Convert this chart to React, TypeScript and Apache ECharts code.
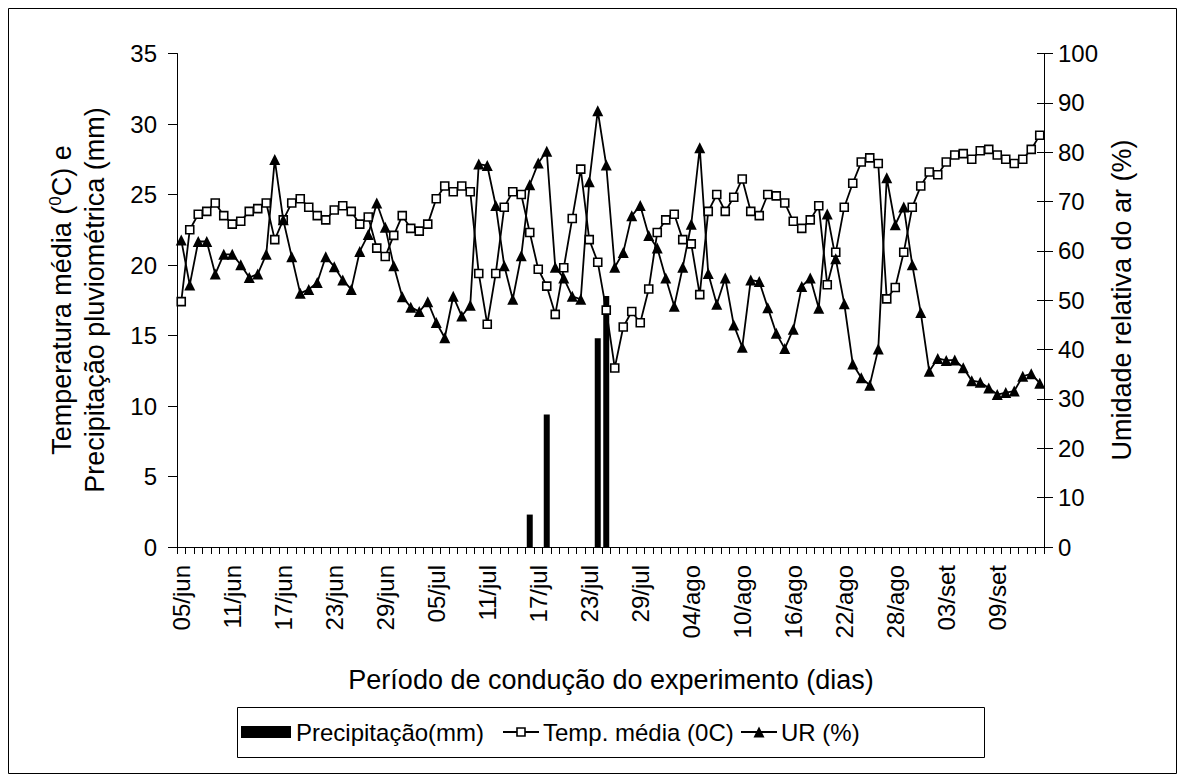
import React, { useEffect, useRef } from "react";
import * as echarts from "echarts";

const FONT = "'Liberation Sans', Arial, sans-serif";

// Calendar spans of the experiment (month label, first day, last day)
const monthSpans: [string, number, number][] = [
  ["jun", 5, 30],
  ["jul", 1, 31],
  ["ago", 1, 31],
  ["set", 1, 14],
];
const categories: string[] = [];
monthSpans.forEach(([m, a, b]) => {
  for (let d = a; d <= b; d++) categories.push(String(d).padStart(2, "0") + "/" + m);
});

// Temperatura média (°C), one value per day
const tempValues = [
  17.4, 22.5, 23.6, 23.8, 24.4, 23.5, 22.9, 23.1, 23.8, 24.0,
  24.4, 21.8, 23.2, 24.4, 24.7, 24.1, 23.5, 23.2, 23.9, 24.2,
  23.8, 22.9, 23.4, 21.2, 20.6, 22.1, 23.5, 22.6, 22.4, 22.9,
  24.7, 25.6, 25.2, 25.6, 25.2, 19.4, 15.8, 19.4, 24.1, 25.2,
  25.0, 22.3, 19.7, 18.5, 16.5, 19.8, 23.3, 26.8, 21.8, 20.2,
  16.8, 12.7, 15.6, 16.7, 15.9, 18.3, 22.3, 23.2, 23.6, 21.8,
  21.5, 17.9, 23.8, 25.0, 23.8, 24.8, 26.1, 23.8, 23.5, 25.0,
  24.9, 24.4, 23.1, 22.6, 23.2, 24.2, 18.6, 20.9, 24.1, 25.8,
  27.3, 27.6, 27.2, 17.6, 18.4, 20.9, 24.1, 25.6, 26.6, 26.4,
  27.3, 27.8, 27.9, 27.5, 28.1, 28.2, 27.8, 27.5, 27.2, 27.5,
  28.2, 29.2,
];

// Umidade relativa do ar (%), one value per day
const urValues = [
  62.2, 53.1, 61.9, 61.9, 55.3, 59.3, 59.3, 57.2, 54.6, 55.3,
  59.3, 78.5, 66.3, 58.8, 51.4, 52.2, 53.6, 58.8, 56.8, 54.1,
  52.2, 59.9, 63.3, 69.7, 64.8, 57.0, 50.7, 48.6, 47.7, 49.7,
  45.5, 42.4, 50.8, 46.8, 49.0, 77.6, 77.3, 69.2, 57.0, 50.2,
  59.0, 73.4, 77.8, 80.2, 56.7, 54.5, 50.8, 50.2, 74.0, 88.4,
  77.4, 56.7, 59.7, 67.1, 69.2, 63.1, 60.6, 54.5, 48.8, 56.7,
  65.4, 80.9, 55.4, 49.2, 54.5, 45.0, 40.5, 54.1, 53.8, 48.5,
  43.3, 40.2, 44.1, 52.8, 54.5, 48.4, 67.5, 58.4, 49.3, 37.1,
  34.3, 32.8, 40.1, 74.8, 65.3, 68.9, 57.2, 47.5, 35.6, 38.2,
  37.8, 37.9, 36.3, 33.7, 33.4, 32.2, 30.9, 31.3, 31.6, 34.6,
  35.1, 33.2,
];

// Precipitação (mm): only the rainy days
const precipDates = ["16/jul", "18/jul", "24/jul", "25/jul"];
const precipValues = [2.3, 9.4, 14.8, 17.8];

const seriesNames = ["Precipitação(mm)", "Temp. média (0C)", "UR (%)"];
const xTitle = "Período de condução do experimento (dias)";
const rightTitle = "Umidade relativa do ar (%)";

const FS = 24;
const TFS = 27;

export default function App() {
  const ref = useRef<HTMLDivElement>(null);
  useEffect(() => {
    if (!ref.current) return;
    const chart = echarts.init(ref.current, undefined, { renderer: "svg" });
    const precipData = categories.map((c) => {
      const k = precipDates.indexOf(c);
      return k >= 0 ? precipValues[k] : null;
    });
    const black = "#000";
    const txt = { fontFamily: FONT, fontSize: FS, fill: black };
    const ttl = { fontFamily: FONT, fontSize: TFS, fill: black };
    const option: any = {
      animation: false,
      backgroundColor: "#fff",
      textStyle: { fontFamily: FONT },
      grid: { left: 177, top: 53.5, width: 867, height: 493.5, containLabel: false },
      xAxis: {
        type: "category",
        data: categories,
        boundaryGap: true,
        axisLine: { show: true, lineStyle: { color: black, width: 1 } },
        axisTick: { show: true, interval: 0, length: 7, lineStyle: { color: black } },
        axisLabel: { interval: 5, rotate: 90, margin: 18, fontSize: FS, color: black, fontFamily: FONT },
        splitLine: { show: false },
      },
      yAxis: [
        {
          type: "value", min: 0, max: 35, interval: 5, position: "left",
          axisLine: { show: true, lineStyle: { color: black } },
          axisTick: { show: true, length: 9, lineStyle: { color: black } },
          axisLabel: { margin: 20, fontSize: FS, color: black, fontFamily: FONT },
          splitLine: { show: false },
        },
        {
          type: "value", min: 0, max: 100, interval: 10, position: "right",
          axisLine: { show: true, lineStyle: { color: black } },
          axisTick: { show: true, length: 9, lineStyle: { color: black } },
          axisLabel: { margin: 14, fontSize: FS, color: black, fontFamily: FONT },
          splitLine: { show: false },
        },
        {
          type: "value", min: 0, max: 100, interval: 10, position: "right",
          axisLine: { show: false },
          axisTick: { show: true, inside: true, length: 7, lineStyle: { color: black } },
          axisLabel: { show: false },
          splitLine: { show: false },
        },
      ],
      series: [
        {
          name: seriesNames[0], type: "bar", yAxisIndex: 0, data: precipData,
          barWidth: 6, itemStyle: { color: black },
        },
        {
          name: seriesNames[1], type: "line", yAxisIndex: 0, data: tempValues,
          symbol: "rect", symbolSize: 8, showAllSymbol: true,
          lineStyle: { color: black, width: 1.8 },
          itemStyle: { color: "#fff", borderColor: black, borderWidth: 1.6 },
        },
        {
          name: seriesNames[2], type: "line", yAxisIndex: 1, data: urValues,
          symbol: "triangle", symbolSize: 11, showAllSymbol: true,
          lineStyle: { color: black, width: 1.8 },
          itemStyle: { color: black },
        },
      ],
      graphic: [
        {
          type: "rect", silent: true, z: -10,
          shape: { x: 8.5, y: 8.5, width: 1168, height: 765 },
          style: { fill: "none", stroke: black, lineWidth: 1 },
        },
        {
          type: "text", x: 62, y: 300, rotation: Math.PI / 2,
          style: {
            text: "{n|Temperatura média (}{s|0}{n|C) e}",
            align: "center", verticalAlign: "middle",
            rich: {
              n: { fontFamily: FONT, fontSize: TFS, fill: black, lineHeight: 30 },
              s: { fontFamily: FONT, fontSize: 17, fill: black, verticalAlign: "top", lineHeight: 30 },
            },
          },
        },
        {
          type: "text", x: 95, y: 300, rotation: Math.PI / 2,
          style: { ...ttl, text: "Precipitação pluviométrica (mm)", align: "center", verticalAlign: "middle" },
        },
        {
          type: "text", x: 1122, y: 300, rotation: Math.PI / 2,
          style: { ...ttl, text: rightTitle, align: "center", verticalAlign: "middle" },
        },
        {
          type: "text", x: 611, y: 680,
          style: { ...ttl, text: xTitle, align: "center", verticalAlign: "middle" },
        },
        // legend
        {
          type: "rect", silent: true,
          shape: { x: 237.5, y: 707.5, width: 747, height: 50 },
          style: { fill: "#fff", stroke: black, lineWidth: 1 },
        },
        { type: "rect", shape: { x: 241, y: 726, width: 50, height: 12 }, style: { fill: black } },
        { type: "text", x: 296, y: 732, style: { ...txt, text: seriesNames[0], verticalAlign: "middle" } },
        { type: "line", shape: { x1: 503, y1: 732, x2: 539, y2: 732 }, style: { stroke: black, lineWidth: 1.8 } },
        { type: "rect", shape: { x: 517, y: 728, width: 8, height: 8 }, style: { fill: "#fff", stroke: black, lineWidth: 1.6 } },
        { type: "text", x: 543, y: 732, style: { ...txt, text: seriesNames[1], verticalAlign: "middle" } },
        { type: "line", shape: { x1: 741, y1: 732, x2: 777, y2: 732 }, style: { stroke: black, lineWidth: 1.8 } },
        { type: "polygon", shape: { points: [[759, 726.5], [764.5, 737.5], [753.5, 737.5]] }, style: { fill: black } },
        { type: "text", x: 781, y: 732, style: { ...txt, text: seriesNames[2], verticalAlign: "middle" } },
      ],
    };
    chart.setOption(option);
    return () => chart.dispose();
  }, []);
  return (
    <div
      ref={ref}
      style={{ position: "fixed", left: 0, top: 0, width: 1185, height: 782, background: "#fff" }}
    />
  );
}
